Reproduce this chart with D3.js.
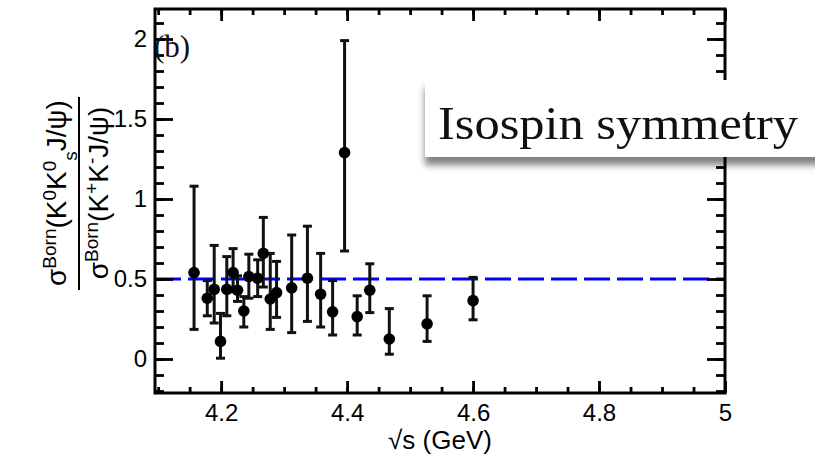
<!DOCTYPE html>
<html>
<head>
<meta charset="utf-8">
<script src="https://cdn.jsdelivr.net/npm/d3@7"></script>
<style>
  body { margin: 0; background: #fff; }
  text { font-family: "Liberation Sans", Arial, sans-serif; }
</style>
</head>
<body>
<div id="chart"></div>
<script>
// data: sqrt(s) in GeV, ratio and error bar ends
const energies = [4.157, 4.178, 4.189, 4.199, 4.209, 4.219, 4.226, 4.236, 4.244, 4.258, 4.267, 4.278,
                  4.288, 4.312, 4.337, 4.358, 4.377, 4.396, 4.416, 4.436, 4.467, 4.527, 4.600];
const ratios   = [0.54, 0.38, 0.435, 0.11, 0.435, 0.54, 0.43, 0.30, 0.515, 0.505, 0.66, 0.375,
                  0.415, 0.445, 0.505, 0.405, 0.295, 1.29, 0.265, 0.43, 0.125, 0.22, 0.365];
const errLow   = [0.185, 0.27, 0.225, 0.005, 0.27, 0.42, 0.36, 0.20, 0.38, 0.39, 0.45, 0.185,
                  0.26, 0.165, 0.235, 0.20, 0.15, 0.675, 0.15, 0.29, 0.03, 0.11, 0.245];
const errHigh  = [1.08, 0.49, 0.71, 0.285, 0.64, 0.69, 0.52, 0.39, 0.655, 0.62, 0.885, 0.66,
                  0.61, 0.775, 0.83, 0.66, 0.49, 1.99, 0.395, 0.595, 0.315, 0.395, 0.51];
const refLevel = 0.5;

const xMajor = [4.2, 4.4, 4.6, 4.8, 5.0];
const xMajorLabels = ["4.2", "4.4", "4.6", "4.8", "5"];
const yMajor = [0, 0.5, 1, 1.5, 2];
const yMajorLabels = ["0", "0.5", "1", "1.5", "2"];

const W = 815, H = 455;
const frame = {left: 155, right: 725, top: 9, bottom: 393};

const x = d3.scaleLinear().domain([4.095, 5.0]).range([frame.left, frame.right]);
const y = d3.scaleLinear().domain([-0.2125, 2.1875]).range([frame.bottom, frame.top]);

const xMinor = d3.range(4.1, 5.0001, 0.05).map(v => +v.toFixed(2));
const yMinor = d3.range(-0.2, 2.1501, 0.1).map(v => +v.toFixed(1));

const svg = d3.select("#chart").append("svg")
    .attr("width", W).attr("height", H);

const defs = svg.append("defs");
const shadow = defs.append("filter").attr("id", "shadow")
    .attr("x", "-10%").attr("y", "-20%").attr("width", "120%").attr("height", "170%");
shadow.append("feDropShadow")
    .attr("dx", 0).attr("dy", 8).attr("stdDeviation", 3.5)
    .attr("flood-color", "#000").attr("flood-opacity", 0.5);

// reference line at 0.5
svg.append("line")
    .attr("x1", frame.left).attr("x2", frame.right)
    .attr("y1", y(refLevel)).attr("y2", y(refLevel))
    .attr("stroke", "#0000ff").attr("stroke-width", 3)
    .attr("stroke-dasharray", "26,7");

// axes, ticks pointing inward
function styleAxis(g) {
    g.select(".domain").remove();
    g.selectAll(".tick line").attr("stroke", "#000").attr("stroke-width", 2.8);
}
const noLabel = () => "";

svg.append("g").attr("transform", `translate(${frame.left},0)`)
    .call(d3.axisLeft(y).tickValues(yMinor).tickSize(-9).tickFormat(noLabel)).call(styleAxis);
svg.append("g").attr("transform", `translate(${frame.left},0)`)
    .call(d3.axisLeft(y).tickValues(yMajor).tickSize(-18).tickPadding(8)
        .tickFormat((d, i) => yMajorLabels[i]))
    .call(styleAxis)
    .selectAll("text").style("font-size", "24px").attr("fill", "#000");

svg.append("g").attr("transform", `translate(${frame.right},0)`)
    .call(d3.axisRight(y).tickValues(yMinor).tickSize(-9).tickFormat(noLabel)).call(styleAxis);
svg.append("g").attr("transform", `translate(${frame.right},0)`)
    .call(d3.axisRight(y).tickValues(yMajor).tickSize(-18).tickFormat(noLabel)).call(styleAxis);

svg.append("g").attr("transform", `translate(0,${frame.bottom})`)
    .call(d3.axisBottom(x).tickValues(xMinor).tickSize(-6).tickFormat(noLabel)).call(styleAxis);
svg.append("g").attr("transform", `translate(0,${frame.bottom})`)
    .call(d3.axisBottom(x).tickValues(xMajor).tickSize(-12).tickPadding(11)
        .tickFormat((d, i) => xMajorLabels[i]))
    .call(styleAxis)
    .selectAll("text").style("font-size", "24px").attr("fill", "#000");

svg.append("g").attr("transform", `translate(0,${frame.top})`)
    .call(d3.axisTop(x).tickValues(xMinor).tickSize(-6).tickFormat(noLabel)).call(styleAxis);
svg.append("g").attr("transform", `translate(0,${frame.top})`)
    .call(d3.axisTop(x).tickValues(xMajor).tickSize(-12).tickFormat(noLabel)).call(styleAxis);

// frame
svg.append("rect")
    .attr("x", frame.left).attr("y", frame.top)
    .attr("width", frame.right - frame.left).attr("height", frame.bottom - frame.top)
    .attr("fill", "none").attr("stroke", "#000").attr("stroke-width", 3);

// error bars + points
const pts = energies.map((e, i) => ({e, r: ratios[i], lo: errLow[i], hi: errHigh[i]}));
const bars = svg.append("g").attr("stroke", "#111").attr("stroke-width", 3);
bars.selectAll(".v").data(pts).enter().append("line")
    .attr("x1", d => x(d.e)).attr("x2", d => x(d.e))
    .attr("y1", d => y(d.lo)).attr("y2", d => y(d.hi));
bars.selectAll(".capHi").data(pts).enter().append("line")
    .attr("x1", d => x(d.e) - 4.5).attr("x2", d => x(d.e) + 4.5)
    .attr("y1", d => y(d.hi)).attr("y2", d => y(d.hi));
bars.selectAll(".capLo").data(pts).enter().append("line")
    .attr("x1", d => x(d.e) - 4.5).attr("x2", d => x(d.e) + 4.5)
    .attr("y1", d => y(d.lo)).attr("y2", d => y(d.lo));
svg.append("g").selectAll("circle").data(pts).enter().append("circle")
    .attr("cx", d => x(d.e)).attr("cy", d => y(d.r))
    .attr("r", 5.8).attr("fill", "#000");

// panel tag
svg.append("text")
    .attr("x", 154).attr("y", 57)
    .style("font-family", "'Liberation Serif', 'Times New Roman', serif")
    .style("font-size", "31px").attr("fill", "#111")
    .text("(b)");

// x title
svg.append("text")
    .attr("x", 440).attr("y", 449)
    .attr("text-anchor", "middle")
    .style("font-size", "26px")
    .text("\u221As (GeV)");

// y title as a stacked fraction
function ratioPart(g, xBase, parts) {
    const t = g.append("text")
        .attr("transform", `translate(${xBase},193) rotate(-90)`)
        .attr("text-anchor", "middle")
        .style("font-size", "28px");
    parts.forEach(p => {
        const s = t.append("tspan").text(p[0]);
        if (p[1] === "sup") s.attr("baseline-shift", "super").style("font-size", "19px");
        if (p[1] === "sub") s.attr("baseline-shift", "sub").style("font-size", "19px");
    });
    return t;
}
const yt = svg.append("g");
ratioPart(yt, 66, [["\u03C3"], ["Born", "sup"], ["(K"], ["0", "sup"], ["K"], ["0", "sup"], ["s", "sub"], ["J/\u03C8)"]]);
ratioPart(yt, 108, [["\u03C3"], ["Born", "sup"], ["(K"], ["+", "sup"], ["K"], ["-", "sup"], ["J/\u03C8)"]]);
yt.append("line")
    .attr("x1", 79).attr("x2", 79).attr("y1", 97).attr("y2", 290)
    .attr("stroke", "#000").attr("stroke-width", 2);

// overlay label box
svg.append("rect")
    .attr("x", 425).attr("y", 80).attr("width", 400).attr("height", 77)
    .attr("fill", "#fff").attr("filter", "url(#shadow)");
svg.append("text")
    .attr("x", 438).attr("y", 139)
    .style("font-family", "'Liberation Serif', 'Times New Roman', serif")
    .style("font-size", "46px").attr("fill", "#111")
    .attr("textLength", 360).attr("lengthAdjust", "spacingAndGlyphs")
    .text("Isospin symmetry");
</script>
</body>
</html>
